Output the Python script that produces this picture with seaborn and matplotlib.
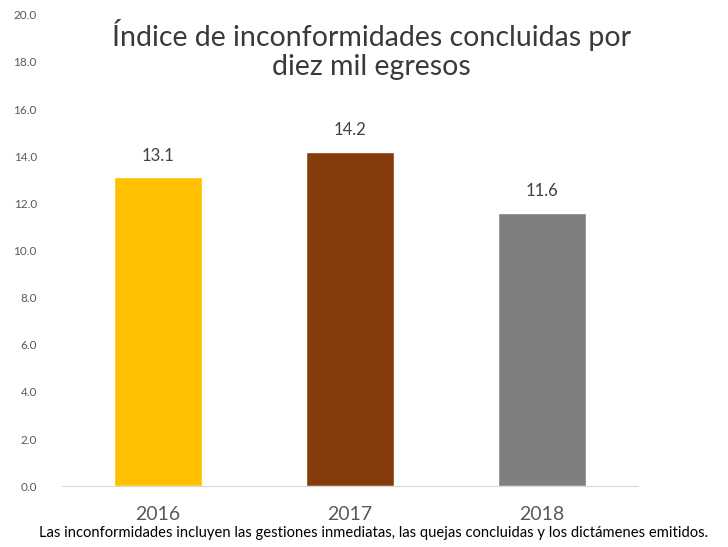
import pandas as pd
import seaborn as sns
import matplotlib.pyplot as plt

years = ["2016", "2017", "2018"]
values = [13.1, 14.2, 11.6]
colors = ["#FFC000", "#843C0C", "#7F7F7F"]
yticks = [0, 2, 4, 6, 8, 10, 12, 14, 16, 18, 20]

df = pd.DataFrame({"year": years, "value": values})

sns.set_style("white")
plt.rcParams["font.family"] = ["Lato", "DejaVu Sans"]

fig = plt.figure(figsize=(7.28, 5.47), dpi=100)
ax = fig.add_axes([0.085, 0.111, 0.791, 0.862])
sns.barplot(data=df, x="year", y="value", hue="year", palette=colors,
            width=0.46, saturation=1, legend=False, ax=ax)

for i, v in enumerate(values):
    ax.annotate(f"{v:.1f}", (i, v), xytext=(0, 10), textcoords="offset points",
                ha="center", va="bottom", fontsize=12, color="#404040")

ax.set_ylim(0, 20)
ax.set_yticks(yticks)
ax.set_yticklabels([f"{t:.1f}" for t in yticks], fontsize=8.5, color="#595959")
ax.tick_params(axis="y", length=0, pad=18)
ax.tick_params(axis="x", length=0, pad=14, labelsize=14, labelcolor="#595959")
ax.set_xlabel("")
ax.set_ylabel("")
for s in ["top", "right", "left"]:
    ax.spines[s].set_visible(False)
ax.spines["bottom"].set_color("#D9D9D9")

ax.text(0.538, 0.99, "Índice de inconformidades concluidas por\ndiez mil egresos",
        transform=ax.transAxes, ha="center", va="top", fontsize=20.5,
        color="#3A3A3A", linespacing=1.1)

fig.text(0.513, 0.012,
         "Las inconformidades incluyen las gestiones inmediatas, las quejas concluidas y los dictámenes emitidos.",
         ha="center", va="bottom", fontsize=10.6, color="black")

fig.savefig("out.png", dpi=100)
